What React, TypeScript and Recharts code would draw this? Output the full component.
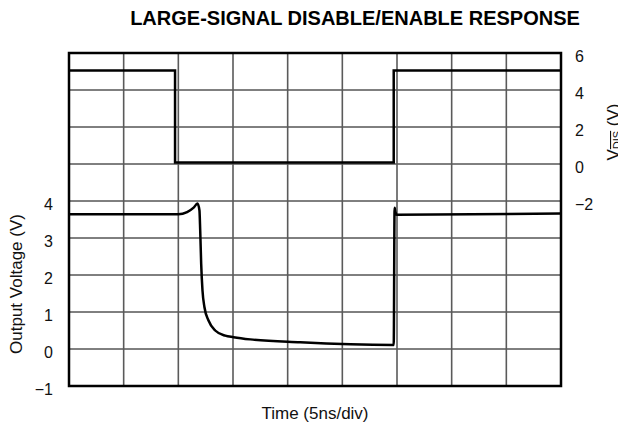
import React from 'react';
import { LineChart, Line, XAxis, YAxis, CartesianGrid, ReferenceArea } from 'recharts';

// ---- text ----
const titleText = 'LARGE-SIGNAL DISABLE/ENABLE RESPONSE';
const xLabelText = 'Time (5ns/div)';
const leftLabelText = 'Output Voltage (V)';

// ---- axes ----
const timeTicks = [0, 5, 10, 15, 20, 25, 30, 35, 40, 45];
const outputTicks = [-1, 0, 1, 2, 3, 4, 5, 6, 7, 8];
const outputLabelMax = 4;
const vdisTicks = [-2, 0, 2, 4, 6];

// ---- V_DIS signal (right axis) ----
const vdisTime = [0, 9.7, 9.7, 29.7, 29.7, 45];
const vdisVolts = [5.05, 5.05, 0.08, 0.08, 5.05, 5.05];

// ---- Output voltage (left axis) ----
const outTime = [0, 10.0, 10.8, 11.4, 11.75, 11.93, 12.0, 12.09, 12.21, 12.39, 12.76, 13.37, 14.29, 15.05, 16.58, 21.15, 29.7, 29.78, 29.86, 29.97, 45];
const outVolts = [3.64, 3.64, 3.7, 3.82, 3.93, 3.75, 3.21, 2.3, 1.58, 1.13, 0.77, 0.5, 0.36, 0.32, 0.26, 0.18, 0.11, 3.82, 3.7, 3.63, 3.66];

const vdisData = vdisTime.map((t, i) => ({ t, v: vdisVolts[i] }));
const outData = outTime.map((t, i) => ({ t, v: outVolts[i] }));

const FONT = '"Liberation Sans", Arial, Helvetica, sans-serif';
const W = 618;
const H = 420;
const LEFT_W = 61;
const RIGHT_W = 65;
const TOP = 45;
const XAXIS_H = 42;

const fmt = (v: number) => (v < 0 ? '\u2212' + Math.abs(v) : String(v));

const EmptyTick = () => <g />;

const LeftTick = (props: any) => {
  const { x, y, payload } = props;
  if (payload.value > outputLabelMax) return <g />;
  return (
    <text x={x} y={y + 3} textAnchor="end" dominantBaseline="central" fontSize={16} fontFamily={FONT} fill="#111">
      {fmt(payload.value)}
    </text>
  );
};

const RightTick = (props: any) => {
  const { x, y, payload } = props;
  return (
    <text x={x} y={y + 3} textAnchor="start" dominantBaseline="central" fontSize={16} fontFamily={FONT} fill="#111">
      {fmt(payload.value)}
    </text>
  );
};

export default function App() {
  const plotLeft = LEFT_W;
  const plotRight = W - RIGHT_W;
  const plotBottom = H - XAXIS_H;
  return (
    <div style={{ width: W, height: H }}>
      <LineChart width={W} height={H} margin={{ top: TOP, right: 0, left: 0, bottom: 0 }} style={{ overflow: 'visible' }}>
        <XAxis
          xAxisId="x"
          type="number"
          dataKey="t"
          domain={[0, 45]}
          ticks={timeTicks}
          allowDataOverflow
          height={XAXIS_H}
          tick={<EmptyTick />}
          tickLine={false}
          axisLine={false}
          interval={0}
        />
        <YAxis
          yAxisId="left"
          type="number"
          domain={[-1, 8]}
          ticks={outputTicks}
          allowDataOverflow
          width={LEFT_W}
          tickSize={0}
          tickMargin={16}
          tickLine={false}
          axisLine={false}
          tick={<LeftTick />}
          interval={0}
        />
        <YAxis
          yAxisId="right"
          orientation="right"
          type="number"
          domain={[-12, 6]}
          ticks={vdisTicks}
          allowDataOverflow
          width={RIGHT_W}
          tickSize={0}
          tickMargin={14}
          tickLine={false}
          axisLine={false}
          tick={<RightTick />}
          interval={0}
        />
        <CartesianGrid xAxisId="x" yAxisId="left" vertical={false} stroke="#000" strokeWidth={1} />
        <CartesianGrid xAxisId="x" yAxisId="left" horizontal={false} stroke="#5a5a5a" strokeWidth={1.6} />
        <ReferenceArea xAxisId="x" yAxisId="left" x1={0} x2={45} y1={-1} y2={8} fill="none" stroke="#000" strokeWidth={2.5} ifOverflow="visible" />
        <Line xAxisId="x" yAxisId="right" data={vdisData} dataKey="v" type="linear" stroke="#000" strokeWidth={2.5} dot={false} activeDot={false} isAnimationActive={false} />
        <Line xAxisId="x" yAxisId="left" data={outData} dataKey="v" type="monotoneX" stroke="#000" strokeWidth={2.5} dot={false} activeDot={false} isAnimationActive={false} />
        <text x={347} y={10} textAnchor="middle" dominantBaseline="central" fontSize={20} fontWeight="bold" fontFamily={FONT} fill="#000">
          {titleText}
        </text>
        <text x={(plotLeft + plotRight) / 2} y={plotBottom + 27} textAnchor="middle" dominantBaseline="central" fontSize={17} fontFamily={FONT} fill="#111">
          {xLabelText}
        </text>
        <text transform={`translate(14, 276) rotate(-90)`} textAnchor="middle" fontSize={17} fontFamily={FONT} fill="#111">
          {leftLabelText}
        </text>
        <text transform={`translate(611, 124) rotate(-90)`} textAnchor="middle" fontSize={17} fontFamily={FONT} fill="#111">
          <tspan>V</tspan>
          <tspan fontSize={11} dy={2} textDecoration="overline">DIS</tspan>
          <tspan dy={-2}> (V)</tspan>
        </text>
      </LineChart>
    </div>
  );
}
